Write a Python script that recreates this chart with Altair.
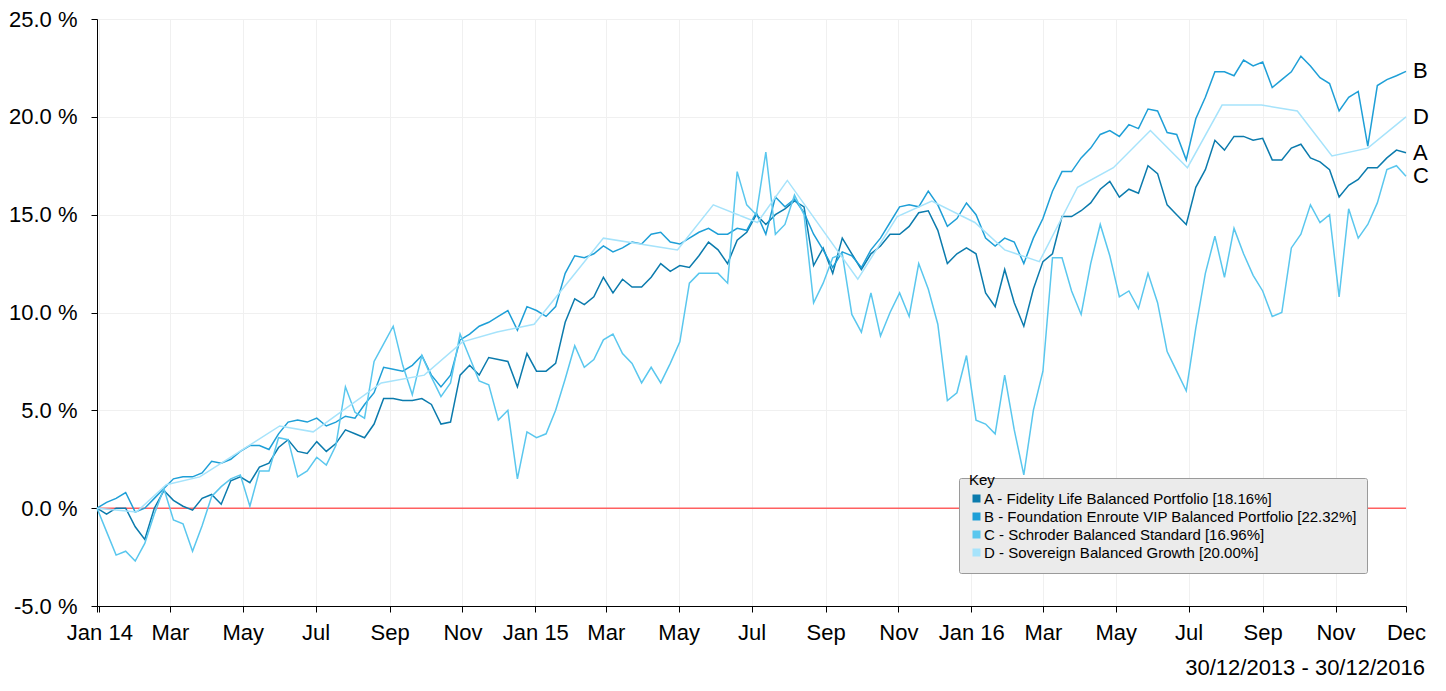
import altair as alt
import pandas as pd

FONT = "Liberation Sans, Arial, Helvetica, sans-serif"

# ---- data (cumulative % growth) ----
START = "2013-12-30"
STEP_DAYS = 8  # sampling step of the A/B/C series

fund_a = [
    0.0, -0.3, 0.0, 0.0, -0.95, -1.6, 0.0, 0.9, 0.4, 0.1,
    -0.1, 0.5, 0.7, 0.2, 1.4, 1.6, 1.3, 2.1, 2.3, 3.1,
    3.5, 2.9, 2.8, 3.4, 2.9, 3.3, 4.0, 3.8, 3.6, 4.3,
    5.6, 5.6, 5.5, 5.5, 5.6, 5.3, 4.3, 4.4, 6.8, 7.3,
    6.8, 7.7, 7.6, 7.5, 6.2, 7.9, 7.0, 7.0, 7.4, 9.5,
    10.7, 10.4, 10.8, 11.8, 11.0, 11.7, 11.3, 11.3, 11.8, 12.5,
    12.1, 12.4, 12.3, 12.9, 13.6, 13.2, 12.5, 13.7, 14.1, 15.0,
    14.5, 15.0, 15.3, 15.7, 15.4, 12.4, 13.3, 12.0, 13.8, 13.0,
    12.2, 13.0, 13.4, 14.0, 14.0, 14.4, 15.1, 15.2, 14.2, 12.5,
    13.0, 13.3, 13.0, 11.0, 10.3, 12.2, 10.5, 9.3, 11.2, 12.6,
    13.0, 14.9, 14.9, 15.2, 15.6, 16.3, 16.7, 15.9, 16.3, 16.1,
    17.5, 17.1, 15.5, 15.0, 14.5, 16.4, 17.3, 18.8, 18.3, 19.0,
    19.0, 18.8, 18.9, 17.8, 17.8, 18.4, 18.6, 17.9, 17.7, 17.3,
    15.9, 16.5, 16.8, 17.4, 17.4, 17.9, 18.3, 18.16,
]

fund_b = [
    0.0, 0.3, 0.5, 0.8, -0.2, 0.0, 0.5, 1.0, 1.5, 1.6,
    1.6, 1.8, 2.4, 2.3, 2.5, 2.9, 3.2, 3.2, 3.0, 3.8,
    4.4, 4.5, 4.4, 4.6, 4.2, 4.4, 4.7, 4.6, 5.3, 5.9,
    7.2, 7.1, 7.0, 7.3, 7.8, 6.8, 6.2, 6.8, 8.6, 8.9,
    9.3, 9.5, 9.8, 10.1, 9.1, 10.3, 10.1, 9.8, 10.3, 12.0,
    12.9, 12.8, 13.0, 13.4, 13.1, 13.3, 13.6, 13.5, 14.0, 14.1,
    13.6, 13.5, 13.8, 14.1, 14.3, 14.0, 14.0, 14.3, 14.2, 15.1,
    14.0, 15.9, 15.4, 15.8, 15.1, 14.0, 13.2, 12.3, 13.1, 12.9,
    12.3, 13.2, 13.8, 14.6, 15.4, 15.5, 15.4, 16.2, 15.5, 14.4,
    14.8, 15.6, 15.0, 13.8, 13.4, 13.8, 13.6, 12.5, 13.8, 14.8,
    16.2, 17.2, 17.2, 17.9, 18.4, 19.1, 19.3, 19.0, 19.6, 19.4,
    20.4, 20.3, 19.2, 19.1, 17.8, 19.9, 21.0, 22.3, 22.3, 22.1,
    22.9, 22.6, 22.8, 21.5, 21.9, 22.3, 23.1, 22.6, 22.0, 21.7,
    20.3, 21.0, 21.3, 18.5, 21.6, 21.9, 22.1, 22.32,
]

fund_c = [
    0.0, -1.2, -2.4, -2.2, -2.7, -1.8, -0.3, 1.0, -0.6, -0.8,
    -2.2, -0.9, 0.6, 1.1, 1.5, 1.7, 0.1, 1.9, 1.9, 3.6,
    3.5, 1.6, 1.9, 2.6, 2.2, 3.2, 6.2, 4.9, 4.6, 7.5,
    8.4, 9.3, 7.3, 5.8, 7.8, 6.7, 5.7, 6.4, 8.9, 7.7,
    6.5, 6.3, 4.5, 5.0, 1.5, 3.9, 3.6, 3.8, 5.0, 6.6,
    8.3, 7.2, 7.6, 8.6, 8.9, 7.9, 7.4, 6.4, 7.2, 6.4,
    7.4, 8.5, 11.5, 12.0, 12.0, 12.0, 11.5, 17.2, 15.5, 15.0,
    18.2, 14.0, 14.5, 16.0, 15.0, 10.5, 11.5, 12.8, 13.0, 9.9,
    9.0, 11.0, 8.8, 10.0, 11.0, 9.8, 12.5, 11.2, 9.4, 5.5,
    5.9, 7.8, 4.5, 4.3, 3.8, 6.8, 4.0, 1.7, 5.0, 7.0,
    12.8, 12.8, 11.1, 9.9, 12.5, 14.5, 12.9, 10.8, 11.1, 10.2,
    12.0, 10.5, 8.0, 7.0, 6.0, 9.2, 12.0, 13.9, 11.8, 14.3,
    13.0, 11.9, 11.1, 9.8, 10.0, 13.3, 14.0, 15.5, 14.6, 15.0,
    10.8, 15.3, 13.8, 14.5, 15.6, 17.3, 17.5, 16.96,
]

fund_d_dates = [
    "2013-12-30", "2014-02-01", "2014-02-26", "2014-03-26", "2014-06-01",
    "2014-06-29", "2014-08-25", "2014-09-30", "2014-11-01", "2014-11-30",
    "2014-12-31", "2015-02-27", "2015-04-30", "2015-05-30", "2015-07-06",
    "2015-07-31", "2015-09-28", "2015-10-31", "2015-11-29", "2016-01-04",
    "2016-01-29", "2016-02-27", "2016-03-30", "2016-04-29", "2016-05-30",
    "2016-06-30", "2016-07-29", "2016-08-31", "2016-09-30", "2016-10-29",
    "2016-11-28", "2016-12-30",
]
fund_d = [
    0.0, -0.2, 1.2, 1.6, 4.2,
    3.9, 6.4, 6.8, 8.5, 9.0,
    9.4, 13.8, 13.2, 15.5, 14.6,
    16.75, 11.7, 14.9, 15.7, 14.6,
    13.2, 12.6, 16.4, 17.4, 19.3,
    17.4, 20.6, 20.6, 20.3, 18.0,
    18.4, 20.0,
]

series_keys = ["A", "B", "C", "D"]
series_names = [
    "A - Fidelity Life Balanced Portfolio [18.16%]",
    "B - Foundation Enroute VIP Balanced Portfolio [22.32%]",
    "C - Schroder Balanced Standard [16.96%]",
    "D - Sovereign Balanced Growth [20.00%]",
]
series_colors = ["#0b7bad", "#1e9fd7", "#5ac7ee", "#a6e3fb"]

y_ticks = [-5, 0, 5, 10, 15, 20, 25]
x_tick_dates = [
    "2013-12-30", "2014-01-01", "2014-03-01", "2014-05-01", "2014-07-01",
    "2014-09-01", "2014-11-01", "2015-01-01", "2015-03-01", "2015-05-01",
    "2015-07-01", "2015-09-01", "2015-11-01", "2016-01-01", "2016-03-01",
    "2016-05-01", "2016-07-01", "2016-09-01", "2016-11-01", "2016-12-30",
]
x_tick_labels = [
    "", "Jan 14", "Mar", "May", "Jul",
    "Sep", "Nov", "Jan 15", "Mar", "May",
    "Jul", "Sep", "Nov", "Jan 16", "Mar",
    "May", "Jul", "Sep", "Nov", "Dec",
]
period_label = "30/12/2013 - 30/12/2016"
END = "2016-12-30"

# ---- build tables ----
grid = pd.date_range(START, periods=len(fund_a), freq=f"{STEP_DAYS}D")
rows = []
for key, name, vals in zip(series_keys[:3], series_names[:3], [fund_a, fund_b, fund_c]):
    for d, v in zip(grid, vals):
        rows.append({"date": d.strftime("%Y-%m-%d"), "value": v, "key": key, "series": name})
for d, v in zip(fund_d_dates, fund_d):
    rows.append({"date": d, "value": v, "key": "D", "series": series_names[3]})
df = pd.DataFrame(rows)

last_vals = [fund_a[-1], fund_b[-1], fund_c[-1], fund_d[-1]]
end_df = pd.DataFrame({"date": [END] * 4, "value": last_vals, "key": series_keys})
zero_df = pd.DataFrame({"value": [0]})


def ms(s):
    return int(pd.Timestamp(s, tz="UTC").value // 10**6)


tick_ms = [ms(s) for s in x_tick_dates]
label_expr = "utcFormat(datum.value, '%b')"
for t, lab in reversed(list(zip(tick_ms, x_tick_labels))):
    label_expr = f"time(datum.value) == {t} ? '{lab}' : ({label_expr})"

x_scale = alt.Scale(type="utc", domain=[ms(START), ms(END)], nice=False)
y_scale = alt.Scale(domain=[-5, 25], nice=False, zero=False)

x_axis = alt.Axis(
    values=tick_ms, labelExpr=label_expr, grid=True, gridColor="#f0f0f0", gridWidth=1,
    domainColor="#000000", domainWidth=1, tickColor="#000000", tickSize=6, tickWidth=1,
    labelFont=FONT, labelFontSize=22, labelColor="#000000", labelPadding=10,
    labelFlush=False, labelOverlap=False, labelAngle=0,
)
y_axis = alt.Axis(
    values=y_ticks,
    labelExpr="(datum.value < 0 ? '-' : '') + format(abs(datum.value), '.1f') + ' %'",
    grid=True, gridColor="#f0f0f0", gridWidth=1,
    domainColor="#000000", domainWidth=1, tickColor="#000000", tickSize=6, tickWidth=1,
    labelFont=FONT, labelFontSize=22, labelColor="#000000", labelPadding=14,
    labelFlush=False, labelOverlap=False,
)

x_enc = alt.X("date:T", scale=x_scale, axis=x_axis, title=None)
y_enc = alt.Y("value:Q", scale=y_scale, axis=y_axis, title=None)

zero_rule = alt.Chart(zero_df).mark_rule(color="#ff6060", strokeWidth=1.5).encode(y=y_enc)

lines = alt.Chart(df).mark_line(strokeWidth=1.5).encode(
    x=x_enc,
    y=y_enc,
    color=alt.Color(
        "series:N",
        scale=alt.Scale(domain=series_names, range=series_colors),
        legend=alt.Legend(
            title="Key", orient="none", legendX=862, legendY=459, direction="vertical",
            fillColor="#ebebeb", strokeColor="#9a9a9a", cornerRadius=2, padding=10,
            titleFont=FONT, titleFontSize=15, titleFontWeight="normal", titleColor="#000000",
            titleBaseline="bottom", titlePadding=-12,
            labelFont=FONT, labelFontSize=15, labelColor="#000000", labelLimit=600, labelOffset=0,
            symbolType="square", symbolSize=16, symbolStrokeWidth=4, symbolOpacity=1,
            rowPadding=-3,
        ),
    ),
)

end_labels = alt.Chart(end_df).mark_text(
    align="left", baseline="middle", dx=7, font=FONT, fontSize=22, color="#000000"
).encode(x=x_enc, y=y_enc, text="key:N")

chart = alt.layer(zero_rule, lines, end_labels).properties(
    width=1309,
    height=587,
    autosize=alt.AutoSizeParams(type="none"),
    padding={"left": 89, "top": 11, "right": 30, "bottom": 73},
    title=alt.TitleParams(
        text=period_label, orient="bottom", anchor="end", frame="group",
        font=FONT, fontSize=22, fontWeight="normal", color="#000000", dx=19, offset=15,
    ),
).configure_view(stroke="transparent").configure(background="#ffffff")

chart.save("out.html", embed_options={"renderer": "svg", "actions": False})
